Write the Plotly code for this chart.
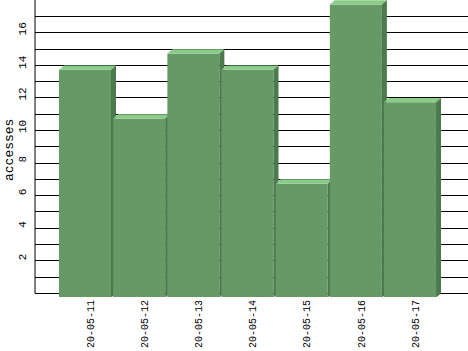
import plotly.graph_objects as go

dates = ["20-05-11", "20-05-12", "20-05-13", "20-05-14", "20-05-15", "20-05-16", "20-05-17"]
accesses = [14, 11, 15, 14, 7, 18, 12]
y_label_values = [2, 4, 6, 8, 10, 12, 14, 16]

FRONT = "#669966"
TOP = "#88cc88"
SIDE = "#4d7a4d"
FONT = "Liberation Mono"

W = 0.96      # front width (x units)
DX = 0.0923   # 3D depth, x units
DY = 0.264    # 3D depth, y units

fig = go.Figure()

def poly(xs, ys, color):
    fig.add_trace(go.Scatter(
        x=xs + [xs[0]], y=ys + [ys[0]], mode="lines", fill="toself",
        fillcolor=color, line=dict(width=0, color=color),
        hoverinfo="skip", showlegend=False))

for i, v in enumerate(accesses):
    xl, xr = i - W / 2, i + W / 2
    # front face
    poly([xl, xr, xr, xl], [-DY, -DY, v - DY, v - DY], FRONT)
    # top face
    poly([xl, xr, xr + DX, xl + DX], [v - DY, v - DY, v, v], TOP)
    # side face
    poly([xr, xr + DX, xr + DX, xr], [-DY, 0, v, v - DY], SIDE)

for v in y_label_values:
    fig.add_annotation(text=str(v), xref="paper", x=0, y=v, yref="y",
                       xanchor="center", yanchor="middle", xshift=-12, yshift=3.5,
                       textangle=-90, showarrow=False,
                       font=dict(family=FONT, size=11, color="black"))

fig.add_annotation(text="accesses", xref="paper", x=0, yref="paper", y=0.495,
                   xanchor="center", yanchor="middle", xshift=-25,
                   textangle=-90, showarrow=False,
                   font=dict(family=FONT, size=13, color="black"))

# left axis line from 0 to top
fig.add_shape(type="line", xref="paper", x0=0, x1=0, yref="y", y0=0, y1=18.02,
              line=dict(color="black", width=1))

fig.update_layout(
    width=468, height=351,
    margin=dict(l=35, r=0, t=0, b=54),
    paper_bgcolor="white", plot_bgcolor="white",
    xaxis=dict(range=[-0.923, 7.07], showgrid=False, zeroline=False, showline=False,
               tickmode="array", tickvals=[i + 0.1 for i in range(len(dates))],
               ticktext=dates, tickangle=-90, ticks="",
               tickfont=dict(family=FONT, size=10, color="black")),
    yaxis=dict(range=[-0.227, 18.02], showgrid=True, gridcolor="black", gridwidth=1,
               tick0=0, dtick=1, zeroline=False, showline=False, showticklabels=False,
               ticks=""),
)

fig.write_html("out.html")
